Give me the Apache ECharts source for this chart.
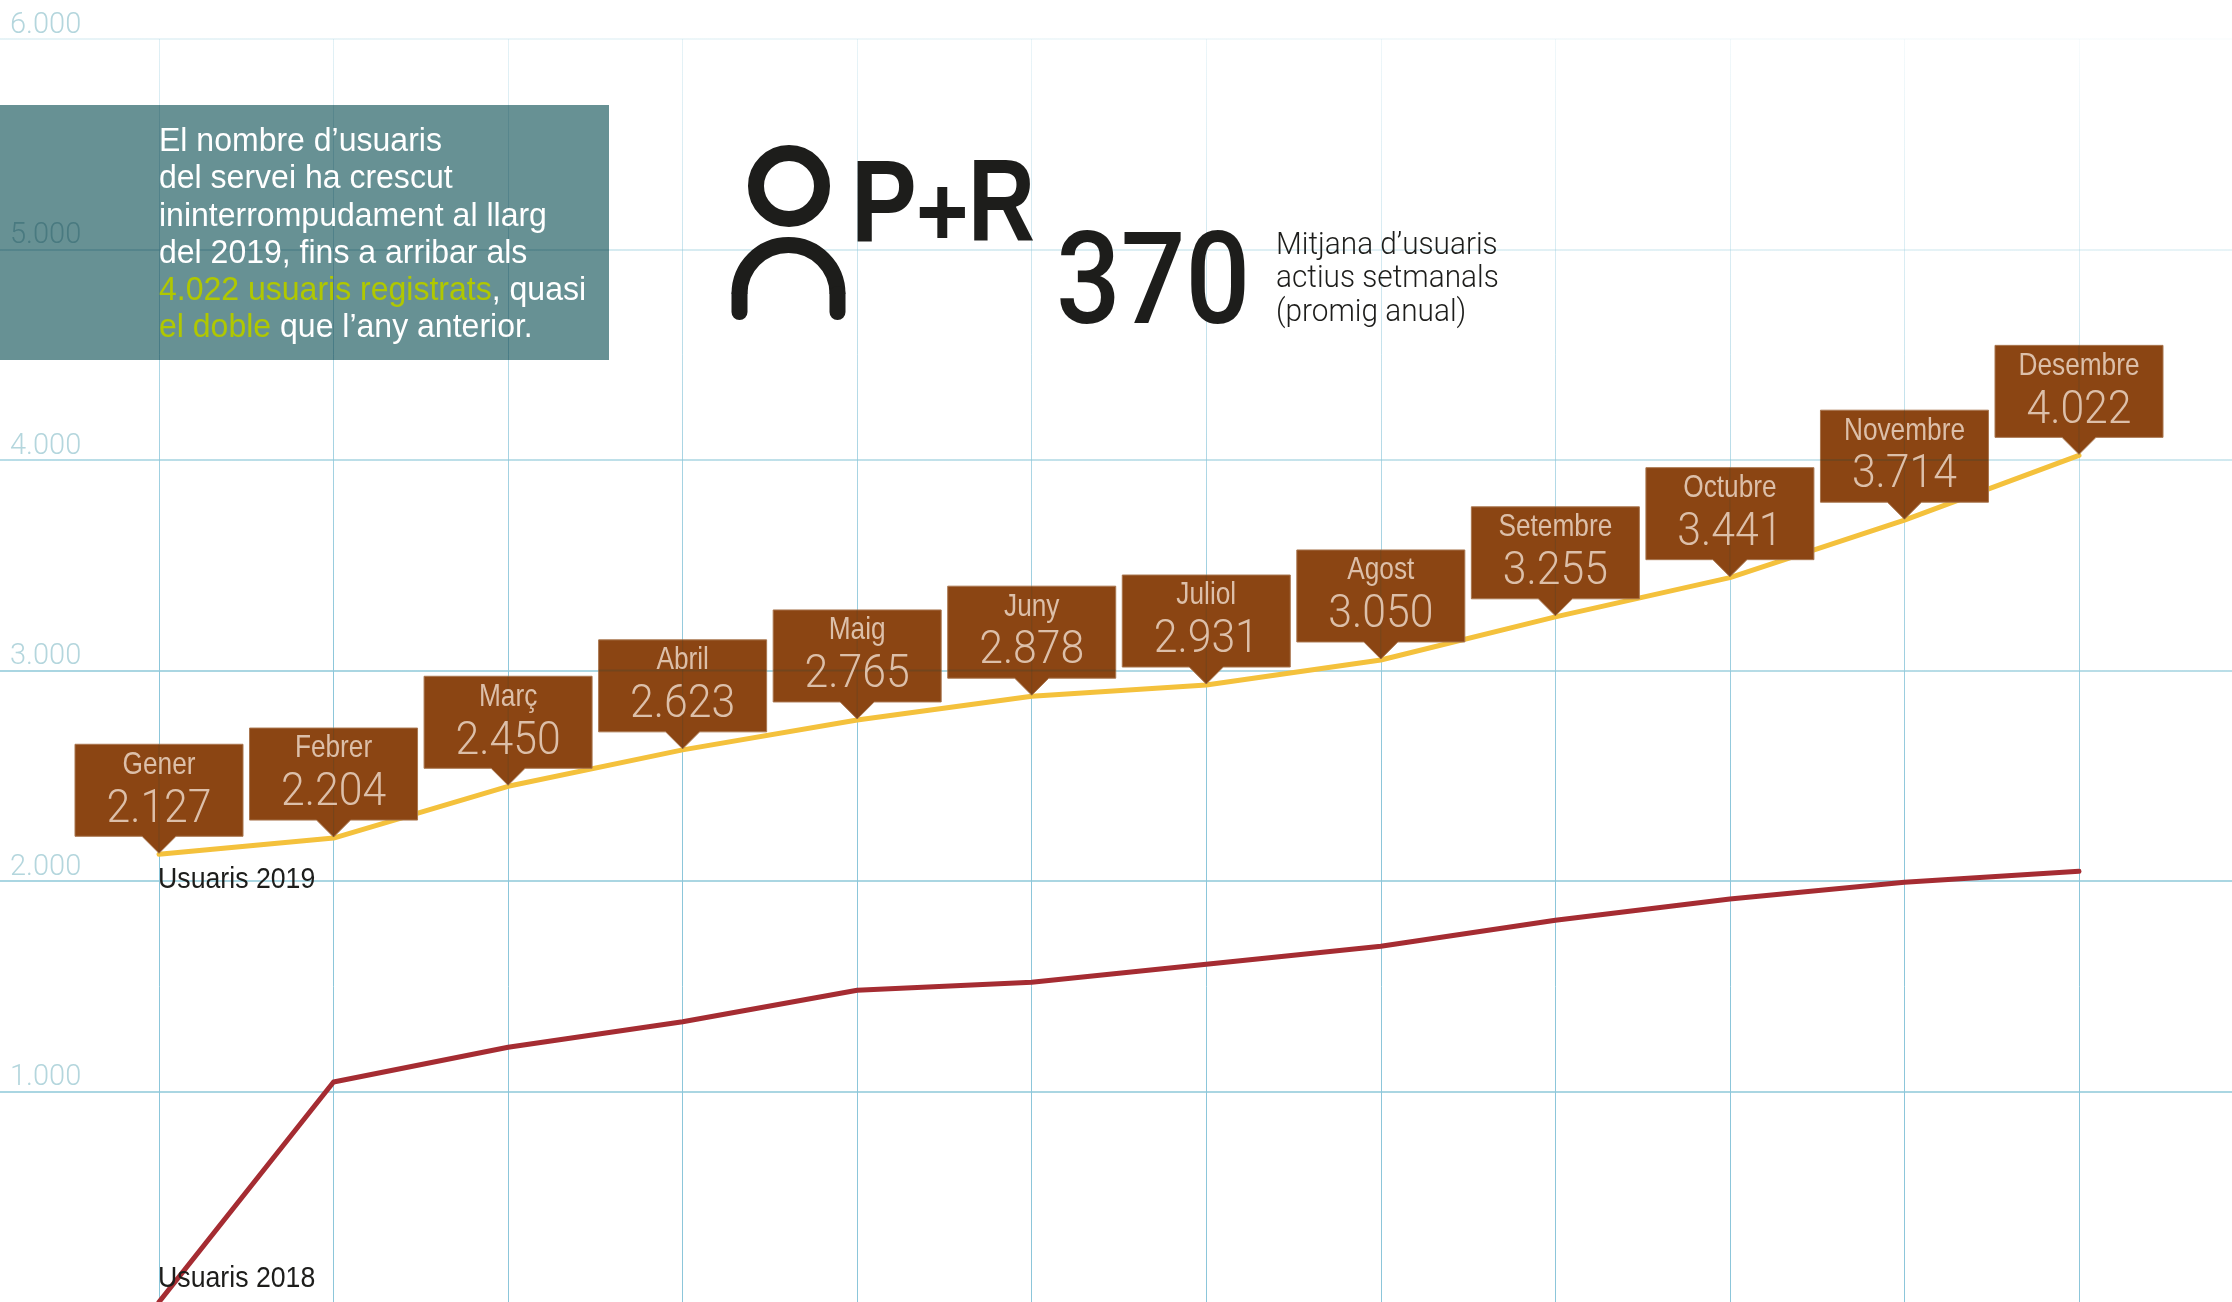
<!DOCTYPE html>
<html>
<head>
<meta charset="utf-8">
<style>html,body{margin:0;padding:0;background:#fff}#c{width:2232px;height:1302px}</style>
<script src="https://cdn.jsdelivr.net/npm/echarts@6/dist/echarts.min.js"></script>
</head>
<body>
<div id="c"></div>
<script>
const months = ['Gener','Febrer','Març','Abril','Maig','Juny','Juliol','Agost','Setembre','Octubre','Novembre','Desembre'];
const users2019 = [2127,2204,2450,2623,2765,2878,2931,3050,3255,3441,3714,4022];
const users2018 = [0,1045,1210,1331,1481,1519,1605,1690,1814,1914,1994,2046];
const yTicks = [1000,2000,3000,4000,5000,6000];
const noteLines = [
  'El nombre d’usuaris',
  'del servei ha crescut',
  'ininterrompudament al llarg',
  'del 2019, fins a arribar als',
  '{g|4.022 usuaris registrats}, quasi',
  '{g|el doble} que l’any anterior.'
];
const sideLines = ['Mitjana d’usuaris','actius setmanals','(promig anual)'];

const fmt = v => String(v).replace(/\B(?=(\d{3})+$)/g,'.');
const ink = '#1d1d1b';
const sans = '"Liberation Sans", Arial, sans-serif';
const light = 'Roboto, "Liberation Sans", sans-serif';

function gridColor(rgb, k){
  const a = [[0,0],[0.1,0.12],[0.3,0.33],[0.6,0.75],[0.85,1],[1,1]];
  return {type:'linear',x:2232,y:0,x2:2132,y2:1000,global:true,
    colorStops:a.map(s=>({offset:s[0],color:`rgba(${rgb},${s[1]*k})`}))};
}

function renderCallout(params, api){
  const i = api.value(0), v = api.value(1);
  const p = api.coord([i,v]);
  const cx = p[0], tip = p[1]-1, W = 168, H = 92, PH = 17, PW = 17;
  const top = tip-PH-H, left = cx-W/2, bottom = tip-PH;
  const kids = [{
    type:'polygon',
    shape:{points:[[left,top],[left+W,top],[left+W,bottom],[cx+PW,bottom],[cx,tip],[cx-PW,bottom],[left,bottom]]},
    style:{fill:'#8b4513',stroke:'#a9764f',lineWidth:1}
  },{
    type:'line',shape:{x1:cx,y1:top,x2:cx,y2:tip},
    style:{stroke:'rgba(60,70,50,0.28)',lineWidth:1}
  }];
  yTicks.forEach(t=>{
    const y = api.coord([i,t])[1];
    if(y>top && y<bottom) kids.push({type:'line',shape:{x1:left,y1:y,x2:left+W,y2:y},
      style:{stroke:'rgba(60,70,50,0.3)',lineWidth:2}});
  });
  kids.push({
    type:'text',x:cx,y:top+20.5,scaleX:0.82,
    style:{text:months[i],x:0,y:0,align:'center',verticalAlign:'middle',
      font:'400 32px '+sans,fill:'#dcbfa9'}
  },{
    type:'text',x:cx,y:top+65.5,scaleX:0.91,
    style:{text:fmt(v),x:0,y:0,align:'center',verticalAlign:'middle',
      font:'300 47px '+light,fill:'#dcbfa9'}
  });
  return {type:'group',children:kids};
}

const t = (text,x,y,font,fill,scaleX,extra) => Object.assign({
  type:'text',x,y,scaleX:scaleX||1,z:6,
  style:Object.assign({text,x:0,y:0,font,fill,align:'left',verticalAlign:'middle'},extra||{})
});

const graphic = [
  {type:'rect',z:5,shape:{x:0,y:105,width:609,height:255},style:{fill:'#679194',blend:'multiply'}},
  ...noteLines.map((s,i)=>t(s,159,142+i*37.3,'400 32.5px '+sans,'#fff',0.985,
    {rich:{g:{fill:'#b0c800',font:'400 32.5px '+sans}}})),
  {type:'circle',z:6,shape:{cx:789,cy:186,r:33},style:{fill:'none',stroke:ink,lineWidth:16}},
  {type:'arc',z:6,shape:{cx:788.5,cy:294,r:49,startAngle:Math.PI,endAngle:0,clockwise:true},style:{fill:'none',stroke:ink,lineWidth:16}},
  {type:'line',z:6,shape:{x1:739.5,y1:294,x2:739.5,y2:312},style:{stroke:ink,lineWidth:16,lineCap:'round'}},
  {type:'line',z:6,shape:{x1:837.5,y1:294,x2:837.5,y2:312},style:{stroke:ink,lineWidth:16,lineCap:'round'}},
  t('P',851,209,'700 116px '+sans,ink,0.85),
  t('+',916,218,'700 100px '+sans,ink,0.9),
  t('R',968,209,'700 116px '+sans,ink,0.8),
  t('370',1056,291,'500 128px '+light,ink,0.89),
  ...sideLines.map((s,i)=>t(s,1276,246+i*33.3,'300 32px '+light,ink,0.93)),
  t('Usuaris 2019',158,880,'400 30px '+sans,ink,0.89),
  t('Usuaris 2018',158,1279,'400 30px '+sans,ink,0.89)
];

const chart = echarts.init(document.getElementById('c'));
chart.setOption({
  animation:false,
  backgroundColor:'#fff',
  grid:[
    {left:0,right:0,top:39,height:1264},
    {left:159,width:1920,top:39,height:1264}
  ],
  xAxis:[
    {gridIndex:0,type:'value',min:0,max:1,show:false},
    {gridIndex:1,type:'category',boundaryGap:false,data:months,
      axisLine:{show:false},axisTick:{show:false},axisLabel:{show:false},
      splitLine:{show:true,interval:0,lineStyle:{color:gridColor('140,198,218',1),width:1}}}
  ],
  yAxis:[
    {gridIndex:0,type:'value',min:0,max:6000,interval:1000,
      axisLine:{show:false},axisTick:{show:false},
      axisLabel:{inside:true,margin:10,align:'left',verticalAlign:'bottom',
        showMinLabel:false,lineHeight:27,
        formatter:v=>v===0?'':fmt(v),
        color:'#b4d6dd',fontFamily:light,fontWeight:300,fontSize:29},
      splitLine:{show:true,showMinLine:false,lineStyle:{color:gridColor('170,214,226',1),width:2}}},
    {gridIndex:1,type:'value',min:0,max:6000,interval:1000,show:false}
  ],
  series:[
    {name:'Usuaris 2018',type:'line',xAxisIndex:1,yAxisIndex:1,data:users2018,z:2,
      symbol:'none',lineStyle:{color:'#a52c32',width:5,cap:'round',join:'round'},silent:true},
    {name:'Usuaris 2019',type:'line',xAxisIndex:1,yAxisIndex:1,data:users2019,z:2,
      symbol:'none',lineStyle:{color:'#f4c13c',width:5,cap:'round',join:'round'},silent:true},
    {name:'Etiquetes',type:'custom',xAxisIndex:1,yAxisIndex:1,z:3,clip:false,silent:true,
      data:users2019.map((v,i)=>[i,v]),renderItem:renderCallout}
  ],
  graphic:graphic
});
</script>
</body>
</html>
